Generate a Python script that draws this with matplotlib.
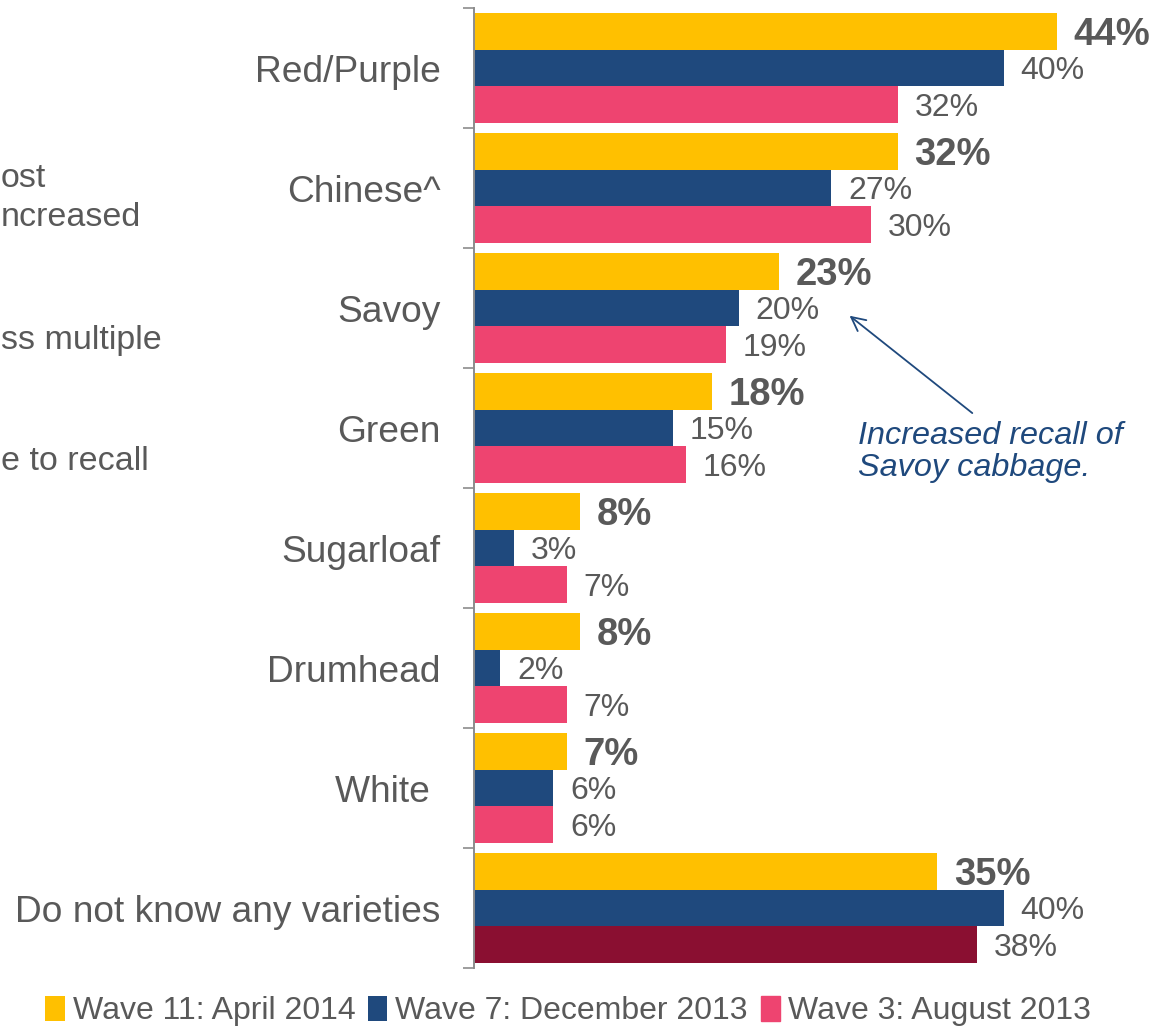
import matplotlib.pyplot as plt

plt.rcParams['font.family'] = ['Liberation Sans', 'DejaVu Sans']

varieties = ['Red/Purple', 'Chinese^', 'Savoy', 'Green', 'Sugarloaf',
             'Drumhead', 'White ', 'Do not know any varieties']
wave11 = [44, 32, 23, 18, 8, 8, 7, 35]
wave7 = [40, 27, 20, 15, 3, 2, 6, 40]
wave3 = [32, 30, 19, 16, 7, 7, 6, 38]
series_names = ['Wave 11: April 2014', 'Wave 7: December 2013', 'Wave 3: August 2013']

yellow = '#FFC000'
navy = '#1F497D'
pink = '#EE4470'
maroon = '#8A0F31'
grey = '#595959'

fig = plt.figure(figsize=(11.7, 10.29), dpi=100)
ax = fig.add_axes([474 / 1170, 1 - 968 / 1029, 662 / 1170, 960 / 1029])

h = 0.305
y = list(range(len(varieties)))
pink_cols = [pink] * (len(varieties) - 1) + [maroon]

b1 = ax.barh([i - h for i in y], wave11, height=h, color=yellow, label=series_names[0])
b2 = ax.barh(y, wave7, height=h, color=navy, label=series_names[1])
b3 = ax.barh([i + h for i in y], wave3, height=h, color=pink_cols, label=series_names[2])

for bars, vals, bold in [(b1, wave11, True), (b2, wave7, False), (b3, wave3, False)]:
    for bar, v in zip(bars, vals):
        ax.annotate(f'{v}%', (v, bar.get_y() + bar.get_height() / 2),
                    xytext=(12, -2.5), textcoords='offset points',
                    ha='left', va='center', color=grey,
                    fontsize=27.5 if bold else 23,
                    fontweight='bold' if bold else 'normal')

ax.set_xlim(0, 50)
ax.set_ylim(len(varieties) - 0.5, -0.5)
ax.set_xticks([])
ax.set_yticks(y)
ax.set_yticklabels(varieties, fontsize=26.7, color=grey)
ax.tick_params(axis='y', which='major', length=0, pad=24)
ax.set_yticks([i - 0.5 for i in range(len(varieties) + 1)], minor=True)
ax.tick_params(axis='y', which='minor', length=8, width=1.2, color='#8C8C8C')
for s in ['top', 'right', 'bottom']:
    ax.spines[s].set_visible(False)
ax.spines['left'].set_color('#8C8C8C')
ax.spines['left'].set_linewidth(1.4)

# note on Savoy
ax.annotate('', xy=(28.2, 2.05), xytext=(37.8, 2.89),
            arrowprops=dict(arrowstyle='->', color=navy, lw=1.3,
                            mutation_scale=25))
ax.text(29.0, 3.2, 'Increased recall of\nSavoy cabbage.', ha='left', va='center',
        fontsize=23.3, style='italic', color=navy, linespacing=1.05)

# text fragments at the left edge
for txt, ypix in [('ost', 178), ('ncreased', 218), ('ss multiple', 340), ('e to recall', 462)]:
    fig.text(1 / 1170, 1 - ypix / 1029, txt, ha='left', va='center', fontsize=24.5, color=grey)

leg = fig.legend(handles=[b1, b2, b3], loc='center', bbox_to_anchor=(568 / 1170, 1 - 1011 / 1029),
                 ncol=3, frameon=False, fontsize=23, handlelength=0.6, handleheight=0.85,
                 handletextpad=0.25, columnspacing=0.4, borderpad=0)
for t in leg.get_texts():
    t.set_color(grey)
leg.legend_handles[2].set_color(pink)

fig.savefig('out.png', dpi=100)
